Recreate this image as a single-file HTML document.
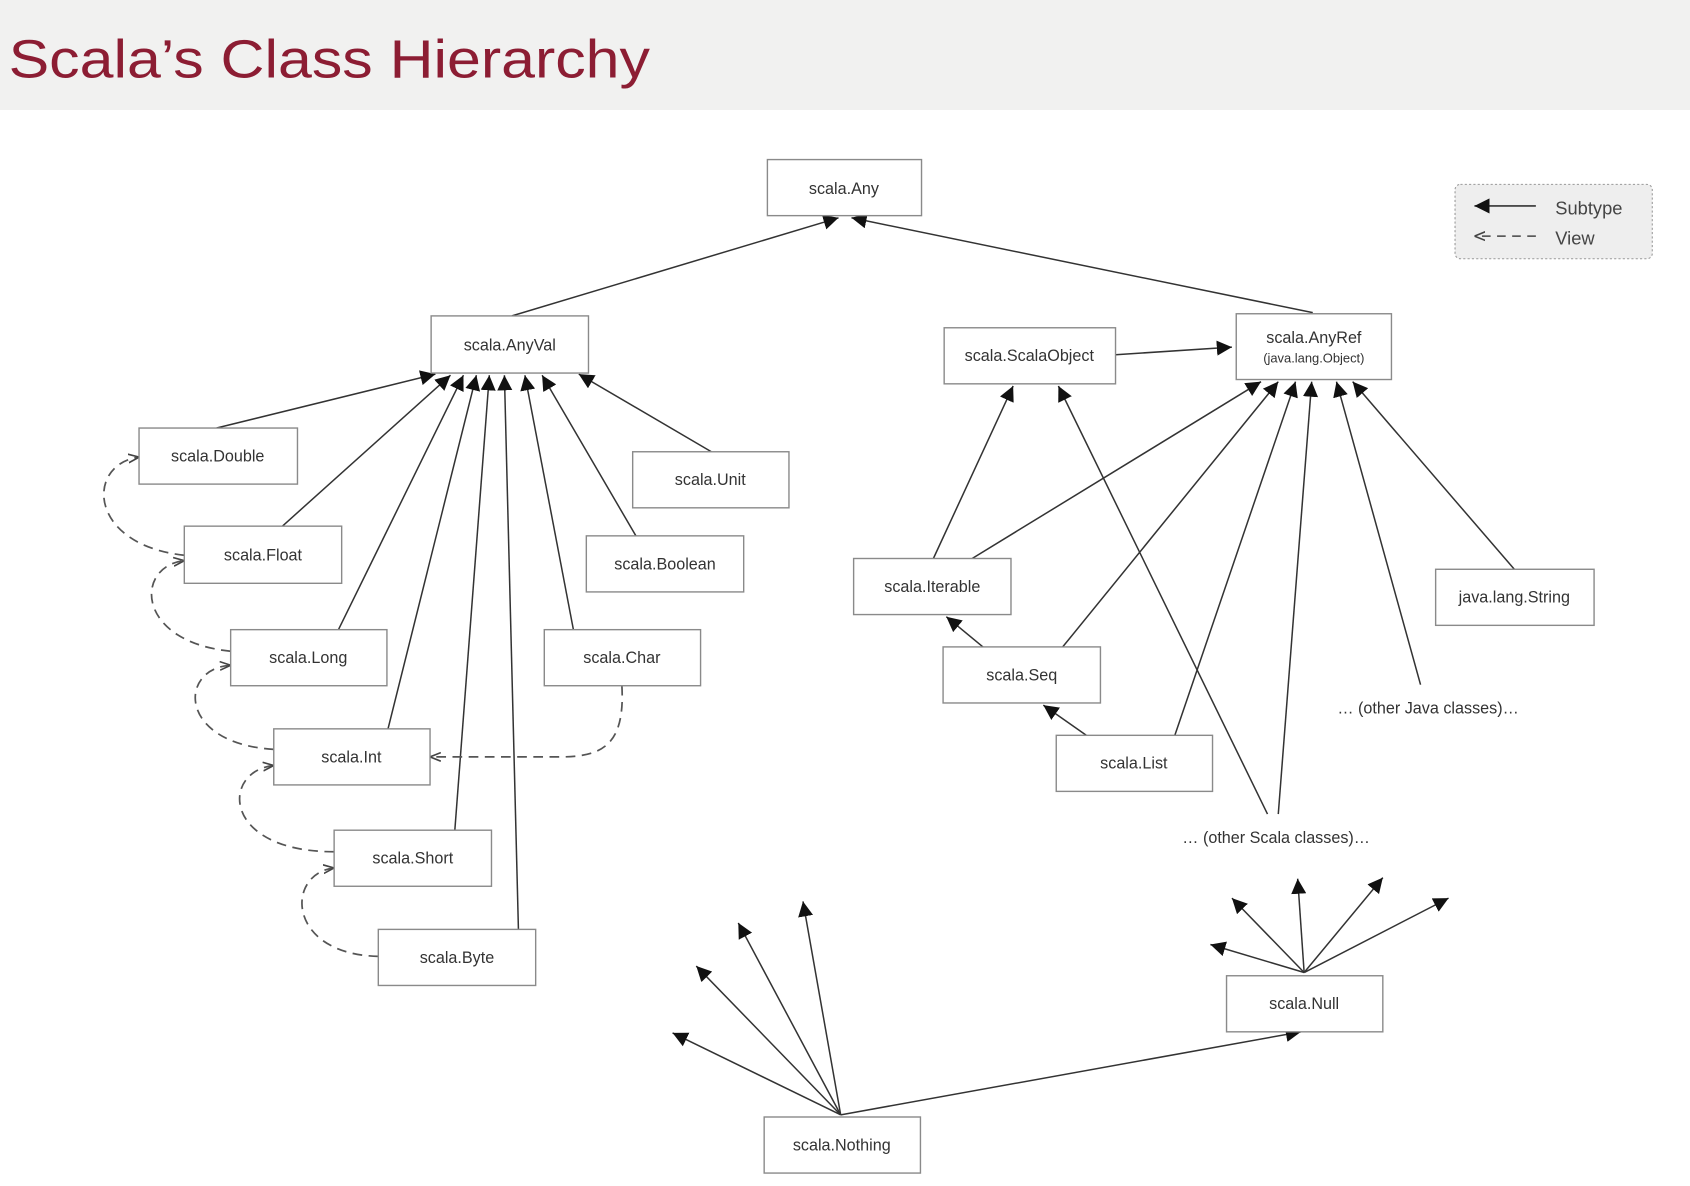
<!DOCTYPE html>
<html><head><meta charset="utf-8"><style>
html,body{margin:0;padding:0;background:#fff;}
svg{display:block;}
text{font-family:"Liberation Sans",sans-serif;}
</style></head><body>
<svg width="1690" height="1186" viewBox="0 0 1568 1100" preserveAspectRatio="none" xmlns="http://www.w3.org/2000/svg">
<defs>
<marker id="a" viewBox="0 0 10 10" refX="10" refY="5" markerWidth="14" markerHeight="14" markerUnits="userSpaceOnUse" orient="auto"><path d="M0,0 L10,5 L0,10 z" fill="#111"/></marker>
<marker id="v" viewBox="0 0 10 10" refX="10" refY="5" markerWidth="10" markerHeight="10" markerUnits="userSpaceOnUse" orient="auto"><path d="M0,1 L10,5 L0,9" fill="none" stroke="#444" stroke-width="1.5"/></marker>
</defs>
<rect x="0" y="0" width="1568" height="102" fill="#f1f1f0"/>
<text x="8" y="72" font-size="50" fill="#8c1d33" textLength="595" lengthAdjust="spacingAndGlyphs">Scala’s Class Hierarchy</text>

<rect x="1350" y="171" width="183" height="69" rx="5" fill="#eeeeee" stroke="#999" stroke-dasharray="2,2"/>
<line x1="1425" y1="191" x2="1368" y2="191" stroke="#333" stroke-width="1.5" marker-end="url(#a)"/>
<text x="1443" y="199" font-size="17" fill="#444">Subtype</text>
<line x1="1425" y1="219" x2="1368" y2="219" stroke="#444" stroke-width="1.5" stroke-dasharray="8,6" marker-end="url(#v)"/>
<text x="1443" y="227" font-size="17" fill="#444">View</text>

<g stroke="#333" stroke-width="1.4" fill="none" marker-end="url(#a)">
<line x1="475" y1="293" x2="778" y2="202"/>
<line x1="1218" y1="290" x2="790" y2="202"/>
<line x1="201" y1="397" x2="404" y2="347"/>
<line x1="262" y1="488" x2="418" y2="348"/>
<line x1="314" y1="584" x2="430" y2="348"/>
<line x1="360" y1="676" x2="442" y2="348"/>
<line x1="422" y1="770" x2="454" y2="348"/>
<line x1="481" y1="862" x2="468" y2="348"/>
<line x1="532" y1="584" x2="487" y2="348"/>
<line x1="590" y1="497" x2="503" y2="348"/>
<line x1="660" y1="419" x2="537" y2="347"/>
<line x1="1035" y1="329" x2="1143" y2="322"/>
<line x1="866" y1="518" x2="940" y2="358"/>
<line x1="902" y1="518" x2="1170" y2="354"/>
<line x1="912" y1="600" x2="878" y2="572"/>
<line x1="986" y1="600" x2="1186" y2="354"/>
<line x1="1008" y1="682" x2="968" y2="654"/>
<line x1="1090" y1="682" x2="1202" y2="354"/>
<line x1="1176" y1="755" x2="982" y2="358"/>
<line x1="1186" y1="755" x2="1217" y2="354"/>
<line x1="1318" y1="635" x2="1240" y2="354"/>
<line x1="1405" y1="528" x2="1255" y2="354"/>
<line x1="780" y1="1034" x2="624" y2="958"/>
<line x1="780" y1="1034" x2="646" y2="896"/>
<line x1="780" y1="1034" x2="685" y2="856"/>
<line x1="780" y1="1034" x2="745" y2="836"/>
<line x1="780" y1="1034" x2="1207" y2="957"/>
<line x1="1210" y1="902" x2="1123" y2="876"/>
<line x1="1210" y1="902" x2="1143" y2="833"/>
<line x1="1210" y1="902" x2="1204" y2="815"/>
<line x1="1210" y1="902" x2="1283" y2="814"/>
<line x1="1210" y1="902" x2="1344" y2="833"/>
</g>

<g stroke="#555" stroke-width="1.6" fill="none" stroke-dasharray="9,6" marker-end="url(#v)">
<path d="M171,515 C80,505 80,430 129,424"/>
<path d="M214,604 C125,595 125,525 171,520"/>
<path d="M254,695 C165,690 165,620 214,617"/>
<path d="M310,790 C205,790 205,715 254,710"/>
<path d="M351,887 C265,885 265,810 310,805"/>
<path d="M577,636 C580,690 560,702 520,702 L399,702"/>
</g>

<g fill="#fff" stroke="#8a8a8a" stroke-width="1.3">
<rect x="712" y="148" width="143" height="52"/>
<rect x="400" y="293" width="146" height="53"/>
<rect x="876" y="304" width="159" height="52"/>
<rect x="1147" y="291" width="144" height="61"/>
<rect x="129" y="397" width="147" height="52"/>
<rect x="587" y="419" width="145" height="52"/>
<rect x="171" y="488" width="146" height="53"/>
<rect x="544" y="497" width="146" height="52"/>
<rect x="214" y="584" width="145" height="52"/>
<rect x="505" y="584" width="145" height="52"/>
<rect x="254" y="676" width="145" height="52"/>
<rect x="310" y="770" width="146" height="52"/>
<rect x="351" y="862" width="146" height="52"/>
<rect x="792" y="518" width="146" height="52"/>
<rect x="875" y="600" width="146" height="52"/>
<rect x="1332" y="528" width="147" height="52"/>
<rect x="980" y="682" width="145" height="52"/>
<rect x="1138" y="905" width="145" height="52"/>
<rect x="709" y="1036" width="145" height="52"/>
</g>

<g font-size="15" fill="#333" text-anchor="middle">
<text x="783" y="180">scala.Any</text>
<text x="473" y="325">scala.AnyVal</text>
<text x="955" y="335">scala.ScalaObject</text>
<text x="1219" y="318">scala.AnyRef</text>
<text x="1219" y="336" font-size="12">(java.lang.Object)</text>
<text x="202" y="428">scala.Double</text>
<text x="659" y="450">scala.Unit</text>
<text x="244" y="520">scala.Float</text>
<text x="617" y="528">scala.Boolean</text>
<text x="286" y="615">scala.Long</text>
<text x="577" y="615">scala.Char</text>
<text x="326" y="707">scala.Int</text>
<text x="383" y="801">scala.Short</text>
<text x="424" y="893">scala.Byte</text>
<text x="865" y="549">scala.Iterable</text>
<text x="948" y="631">scala.Seq</text>
<text x="1405" y="559">java.lang.String</text>
<text x="1052" y="713">scala.List</text>
<text x="1210" y="936">scala.Null</text>
<text x="781" y="1067">scala.Nothing</text>
<text x="1325" y="662">… (other Java classes)…</text>
<text x="1184" y="782">… (other Scala classes)…</text>
</g>
</svg>
</body></html>
